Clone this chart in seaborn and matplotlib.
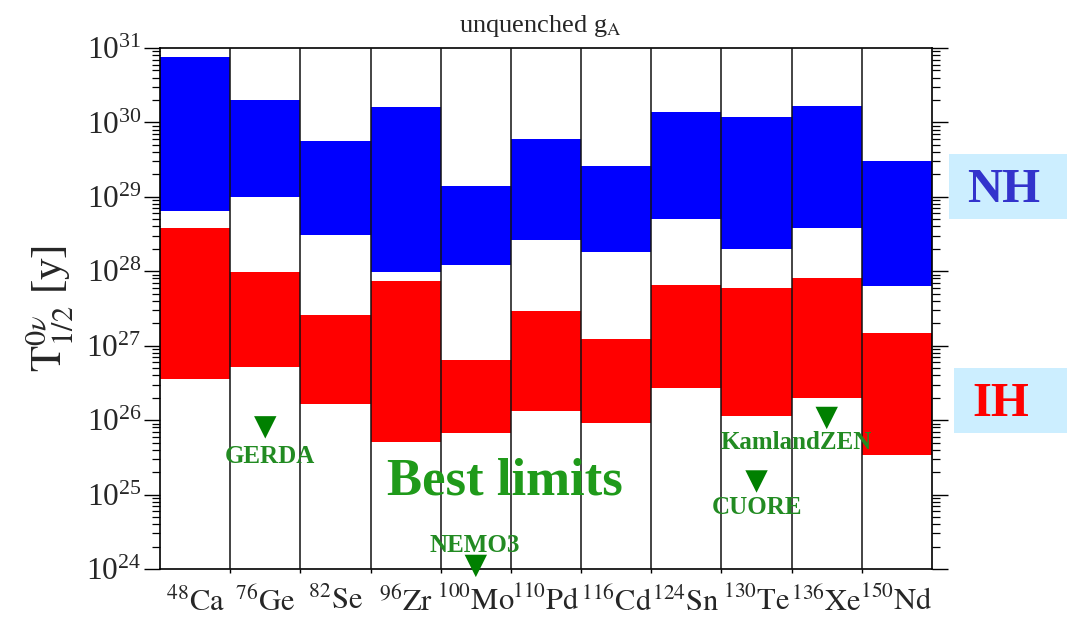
import numpy as np
import pandas as pd
import matplotlib
matplotlib.use("Agg")
import matplotlib.pyplot as plt
import seaborn as sns
from matplotlib.patches import Rectangle
from matplotlib.ticker import LogLocator, NullFormatter, FixedLocator

# Isotopes and their mass numbers
isotopes = ["Ca", "Ge", "Se", "Zr", "Mo", "Pd", "Cd", "Sn", "Te", "Xe", "Nd"]
mass_numbers = [48, 76, 82, 96, 100, 110, 116, 124, 130, 136, 150]

# Predicted half-life ranges [y], normal hierarchy
nh_low = [6.4e28, 1.0e29, 3.1e28, 9.8e27, 1.2e28, 2.6e28, 1.8e28, 5.0e28, 2.0e28, 3.8e28, 6.3e27]
nh_high = [7.6e30, 2.0e30, 5.6e29, 1.6e30, 1.4e29, 6.0e29, 2.6e29, 1.4e30, 1.2e30, 1.65e30, 3.0e29]

# Predicted half-life ranges [y], inverted hierarchy
ih_low = [3.6e26, 5.2e26, 1.66e26, 5.1e25, 6.7e25, 1.33e26, 9.1e25, 2.7e26, 1.15e26, 2.0e26, 3.4e25]
ih_high = [3.8e28, 9.8e27, 2.6e27, 7.4e27, 6.5e26, 2.9e27, 1.23e27, 6.6e27, 6.0e27, 8.0e27, 1.48e27]

# Experimental lower limits
experiments = ["GERDA", "NEMO3", "CUORE", "KamlandZEN"]
experiment_isotope = ["Ge", "Mo", "Te", "Xe"]
limits = [8.0e25, 1.1e24, 1.5e25, 1.07e26]

sns.set_theme(style="white")
plt.rcParams["font.family"] = ["Liberation Serif", "DejaVu Serif"]
plt.rcParams["mathtext.fontset"] = "stix"

fig = plt.figure(figsize=(10.67, 6.18), dpi=100)
ax = fig.add_axes([160 / 1067, 1 - 569 / 618, (932 - 160) / 1067, (569 - 48) / 618])

x = np.arange(len(isotopes))
ax.bar(x, np.array(nh_high) - np.array(nh_low), bottom=nh_low, width=1.0,
       color="#0000ff", linewidth=0, zorder=1)
ax.bar(x, np.array(ih_high) - np.array(ih_low), bottom=ih_low, width=1.0,
       color="#ff0000", linewidth=0, zorder=1)

# Column separators
for b in np.arange(0.5, len(isotopes) - 1, 1.0):
    ax.axvline(b, color="#111111", lw=1.1, zorder=3)

ax.set_yscale("log")
ax.set_ylim(1e24, 1e31)
ax.set_xlim(-0.5, len(isotopes) - 0.5)

ax.yaxis.set_major_locator(LogLocator(base=10, numticks=20))
ax.yaxis.set_minor_locator(LogLocator(base=10, subs=np.arange(2, 10), numticks=100))
ax.yaxis.set_minor_formatter(NullFormatter())
ax.tick_params(axis="y", which="major", direction="out", length=11.5, width=1.0,
               left=True, right=True, labelsize=22.5, pad=2, color="black")
ax.tick_params(axis="y", which="minor", direction="out", length=5.8, width=0.9,
               left=True, right=True, color="black")

ax.set_xticks(x)
ax.set_xticklabels([rf"${{}}^{{{m}}}\mathrm{{{s}}}$" for m, s in zip(mass_numbers, isotopes)])
ax.xaxis.set_minor_locator(FixedLocator(np.arange(0.5, len(isotopes) - 1, 1.0)))
ax.tick_params(axis="x", which="major", length=0, labelsize=22, pad=13)
ax.tick_params(axis="x", which="minor", direction="out", length=3, width=1.0,
               bottom=True, color="black")

for sp in ax.spines.values():
    sp.set_color("black")
    sp.set_linewidth(1.2)
    sp.set_visible(True)

# Experimental limits
lim_df = pd.DataFrame({
    "experiment": experiments,
    "x": [isotopes.index(i) for i in experiment_isotope],
    "limit": limits,
})
sns.scatterplot(data=lim_df, x="x", y="limit", marker="v", s=260, color="#008000",
                edgecolor="none", ax=ax, zorder=5, clip_on=False, legend=False)

label_offsets = {"GERDA": (3, -21), "NEMO3": (-1, 15), "CUORE": (0, -19),
                 "KamlandZEN": (-22, -18)}
for _, row in lim_df.iterrows():
    ax.annotate(row["experiment"], (row["x"], row["limit"]),
                xytext=label_offsets[row["experiment"]], textcoords="offset points",
                ha="center", va="center", fontsize=18, fontweight="bold",
                color="#228b22", zorder=6, annotation_clip=False)

ax.text(0.447, 0.168, "Best limits", transform=ax.transAxes, ha="center", va="center",
        fontsize=38, fontweight="bold", color="#1f9a1a", zorder=6)

ax.xaxis.label.set_visible(False)
ax.yaxis.label.set_visible(False)

fig.text(540 / 1067, 1 - 26 / 618, r"unquenched g$_\mathrm{A}$", ha="center",
         va="center", fontsize=19)
fig.text(50 / 1067, 1 - 308 / 618, r"$\mathrm{T}^{0\nu}_{1/2}$ [y]", rotation=90,
         ha="center", va="center", fontsize=31)

# Hierarchy labels
fig.add_artist(Rectangle((949 / 1067, 1 - 219 / 618), (1067 - 949) / 1067, 65 / 618,
                         transform=fig.transFigure, facecolor="#cceeff", edgecolor="none"))
fig.add_artist(Rectangle((954 / 1067, 1 - 433 / 618), (1067 - 954) / 1067, 65 / 618,
                         transform=fig.transFigure, facecolor="#cceeff", edgecolor="none"))
fig.text(1004 / 1067, 1 - 190 / 618, "NH", ha="center", va="center", fontsize=35,
         fontweight="bold", color="#3333cc")
fig.text(1001 / 1067, 1 - 404 / 618, "IH", ha="center", va="center", fontsize=35,
         fontweight="bold", color="#ff0000")

fig.savefig("out.png", dpi=100)
